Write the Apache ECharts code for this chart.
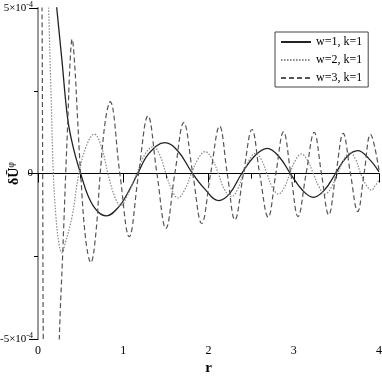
<!DOCTYPE html>
<html>
<head>
<meta charset="utf-8">
<script src="https://cdn.jsdelivr.net/npm/echarts@6/dist/echarts.min.js"></script>
<style>
  html, body { margin: 0; padding: 0; background: #fff; }
  #chart { width: 382px; height: 382px; }
</style>
</head>
<body>
<div id="chart"></div>
<script>
// values in units of 1e-4
const rW1 = [0.12, 0.17, 0.22, 0.28, 0.35, 0.42, 0.50, 0.60, 0.70, 0.80, 0.95, 1.06, 1.17, 1.30, 1.49, 1.65, 1.80, 1.95, 2.12, 2.25, 2.39, 2.55, 2.69, 2.83, 2.96, 3.10, 3.23, 3.36, 3.49, 3.62, 3.75, 3.88, 4.00];
const vW1 = [8.5, 6.3, 5.0, 3.44, 1.62, 0.72, 0, -0.75, -1.15, -1.28, -1.0, -0.55, 0, 0.6, 0.93, 0.65, 0.05, -0.45, -0.82, -0.6, 0, 0.55, 0.76, 0.5, 0, -0.5, -0.72, -0.5, 0, 0.5, 0.69, 0.45, 0.05];

const rW2 = [0.06, 0.10, 0.125, 0.155, 0.18, 0.21, 0.245, 0.28, 0.32, 0.40, 0.48, 0.57, 0.66, 0.745, 0.82, 0.90, 0.97, 1.06, 1.16, 1.26, 1.35, 1.43, 1.50, 1.57, 1.64, 1.72, 1.80, 1.88, 1.96, 2.04, 2.115, 2.19, 2.27, 2.34, 2.41, 2.48, 2.55, 2.62, 2.685, 2.75, 2.82, 2.89, 2.955, 3.02, 3.09, 3.16, 3.23, 3.30, 3.37, 3.44, 3.515, 3.59, 3.66, 3.725, 3.785, 3.85, 3.91, 3.96, 4.00];
const vW2 = [12, 7.5, 5.0, 2.2, 0, -1.3, -2.1, -2.4, -2.1, -1.3, 0, 0.85, 1.19, 0.8, 0, -0.7, -0.97, -0.6, 0, 0.6, 0.81, 0.55, 0, -0.5, -0.74, -0.5, 0, 0.45, 0.66, 0.45, 0, -0.5, -0.70, -0.48, 0, 0.42, 0.61, 0.42, 0, -0.42, -0.62, -0.42, 0, 0.4, 0.59, 0.4, 0, -0.42, -0.62, -0.42, 0, 0.43, 0.63, 0.43, 0, -0.35, -0.5, -0.35, -0.2];

const rW3 = [0.02, 0.045, 0.055, 0.065, 0.10, 0.16, 0.22, 0.25, 0.29, 0.325, 0.35, 0.375, 0.40, 0.43, 0.465, 0.50, 0.56, 0.62, 0.675, 0.73, 0.79, 0.845, 0.96, 1.07, 1.18, 1.29, 1.395, 1.50, 1.605, 1.71, 1.815, 1.92, 2.025, 2.13, 2.22, 2.31, 2.41, 2.51, 2.60, 2.70, 2.79, 2.88, 2.965, 3.05, 3.145, 3.24, 3.325, 3.41, 3.495, 3.58, 3.665, 3.75, 3.825, 3.90, 4.00];
const vW3 = [14, 6, 0, -6, -12, -14, -9, -5.0, -2.4, 0, 1.62, 3.3, 4.06, 3.3, 1.62, 0, -2.0, -2.69, -1.9, 0, 1.6, 2.17, 0, -1.91, 0, 1.74, 0, -1.66, 0, 1.54, 0, -1.51, 0, 1.43, 0, -1.40, 0, 1.33, 0, -1.32, 0, 1.26, 0, -1.30, 0, 1.24, 0, -1.25, 0, 1.21, 0, -1.15, 0, 1.18, 0.1];

const seriesNames = ['w=1, k=1', 'w=2, k=1', 'w=3, k=1'];
const xTicks = [0, 1, 2, 3, 4];
const yTickLabels = { '5': '{a|5×10}{s|-4}', '0': '{a|0}', '-5': '{a|-5×10}{s|-4}' };

const zip = (xs, ys) => xs.map((x, i) => [x, ys[i]]);
const serif = 'Liberation Serif';

const chart = echarts.init(document.getElementById('chart'));

const option = {
    animation: false,
    backgroundColor: '#fff',
    grid: { left: 38, right: 3, top: 8, bottom: 43, containLabel: false, outerBoundsMode: 'none' },
    legend: {
        data: seriesNames,
        orient: 'vertical',
        left: 275,
        top: 32,
        padding: [4, 6, 3, 5],
        itemWidth: 30,
        itemHeight: 13,
        itemGap: 6,
        borderColor: '#444',
        borderWidth: 1,
        borderRadius: 0,
        backgroundColor: '#fff',
        itemStyle: { opacity: 0 },
        textStyle: { fontFamily: serif, fontSize: 12, color: '#000' }
    },
    xAxis: [
        {
            type: 'value', min: xTicks[0], max: xTicks[xTicks.length - 1], interval: 1,
            name: 'r', nameLocation: 'middle', nameGap: 22, nameMoveOverlap: false,
            nameTextStyle: { fontFamily: serif, fontSize: 15, fontWeight: 'bold', color: '#000' },
            axisLine: { lineStyle: { color: '#000', width: 1 } },
            axisTick: { length: 9, lineStyle: { color: '#000' } },
            minorTick: { show: true, splitNumber: 2, length: 5, lineStyle: { color: '#000' } },
            axisLabel: { fontFamily: serif, fontSize: 12, color: '#000', margin: 6 },
            splitLine: { show: false }
        },
        {
            type: 'value', min: 0, max: 4, position: 'top',
            axisLine: { lineStyle: { color: '#000', width: 1 } },
            axisTick: { show: false }, axisLabel: { show: false }, splitLine: { show: false }
        }
    ],
    yAxis: [
        {
            type: 'value', min: -5, max: 5, interval: 5,
            name: '{m|δŪ}{s|φ}', nameLocation: 'middle', nameRotate: 90, nameGap: 16,
            nameMoveOverlap: false,
            nameTextStyle: {
                color: '#000',
                rich: {
                    m: { fontFamily: serif, fontSize: 14, fontWeight: 'bold', color: '#000', lineHeight: 16 },
                    s: { fontFamily: serif, fontSize: 10, color: '#000', verticalAlign: 'top', lineHeight: 16 }
                }
            },
            axisLine: { lineStyle: { color: '#000', width: 1 } },
            axisTick: { length: 9, lineStyle: { color: '#000' } },
            minorTick: { show: true, splitNumber: 2, length: 4, lineStyle: { color: '#000' } },
            axisLabel: {
                color: '#000', margin: 5,
                formatter: (v) => yTickLabels[String(v)] || '',
                rich: {
                    a: { fontFamily: serif, fontSize: 11, color: '#000', lineHeight: 14 },
                    s: { fontFamily: serif, fontSize: 8, color: '#000', verticalAlign: 'top', lineHeight: 14 }
                }
            },
            splitLine: { show: false }
        },
        {
            type: 'value', min: -5, max: 5, position: 'right',
            axisLine: { show: true, lineStyle: { color: '#999', width: 2 } },
            axisTick: { show: false }, axisLabel: { show: false }, splitLine: { show: false }
        }
    ],
    series: [
        {
            name: seriesNames[0], type: 'line', data: zip(rW1, vW1),
            smooth: 0.4, showSymbol: false, symbol: 'none', clip: true,
            lineStyle: { color: '#222', width: 1.3, type: 'solid' },
            itemStyle: { color: '#222' }
        },
        {
            name: seriesNames[1], type: 'line', data: zip(rW2, vW2),
            smooth: 0.4, showSymbol: false, symbol: 'none', clip: true,
            lineStyle: { color: '#888', width: 1.2, type: [1.5, 1.5] },
            itemStyle: { color: '#888' }
        },
        {
            name: seriesNames[2], type: 'line', data: zip(rW3, vW3),
            smooth: 0.4, showSymbol: false, symbol: 'none', clip: true,
            lineStyle: { color: '#555', width: 1.2, type: [5, 3] },
            itemStyle: { color: '#555' }
        }
    ]
};

chart.setOption(option);
</script>
</body>
</html>
